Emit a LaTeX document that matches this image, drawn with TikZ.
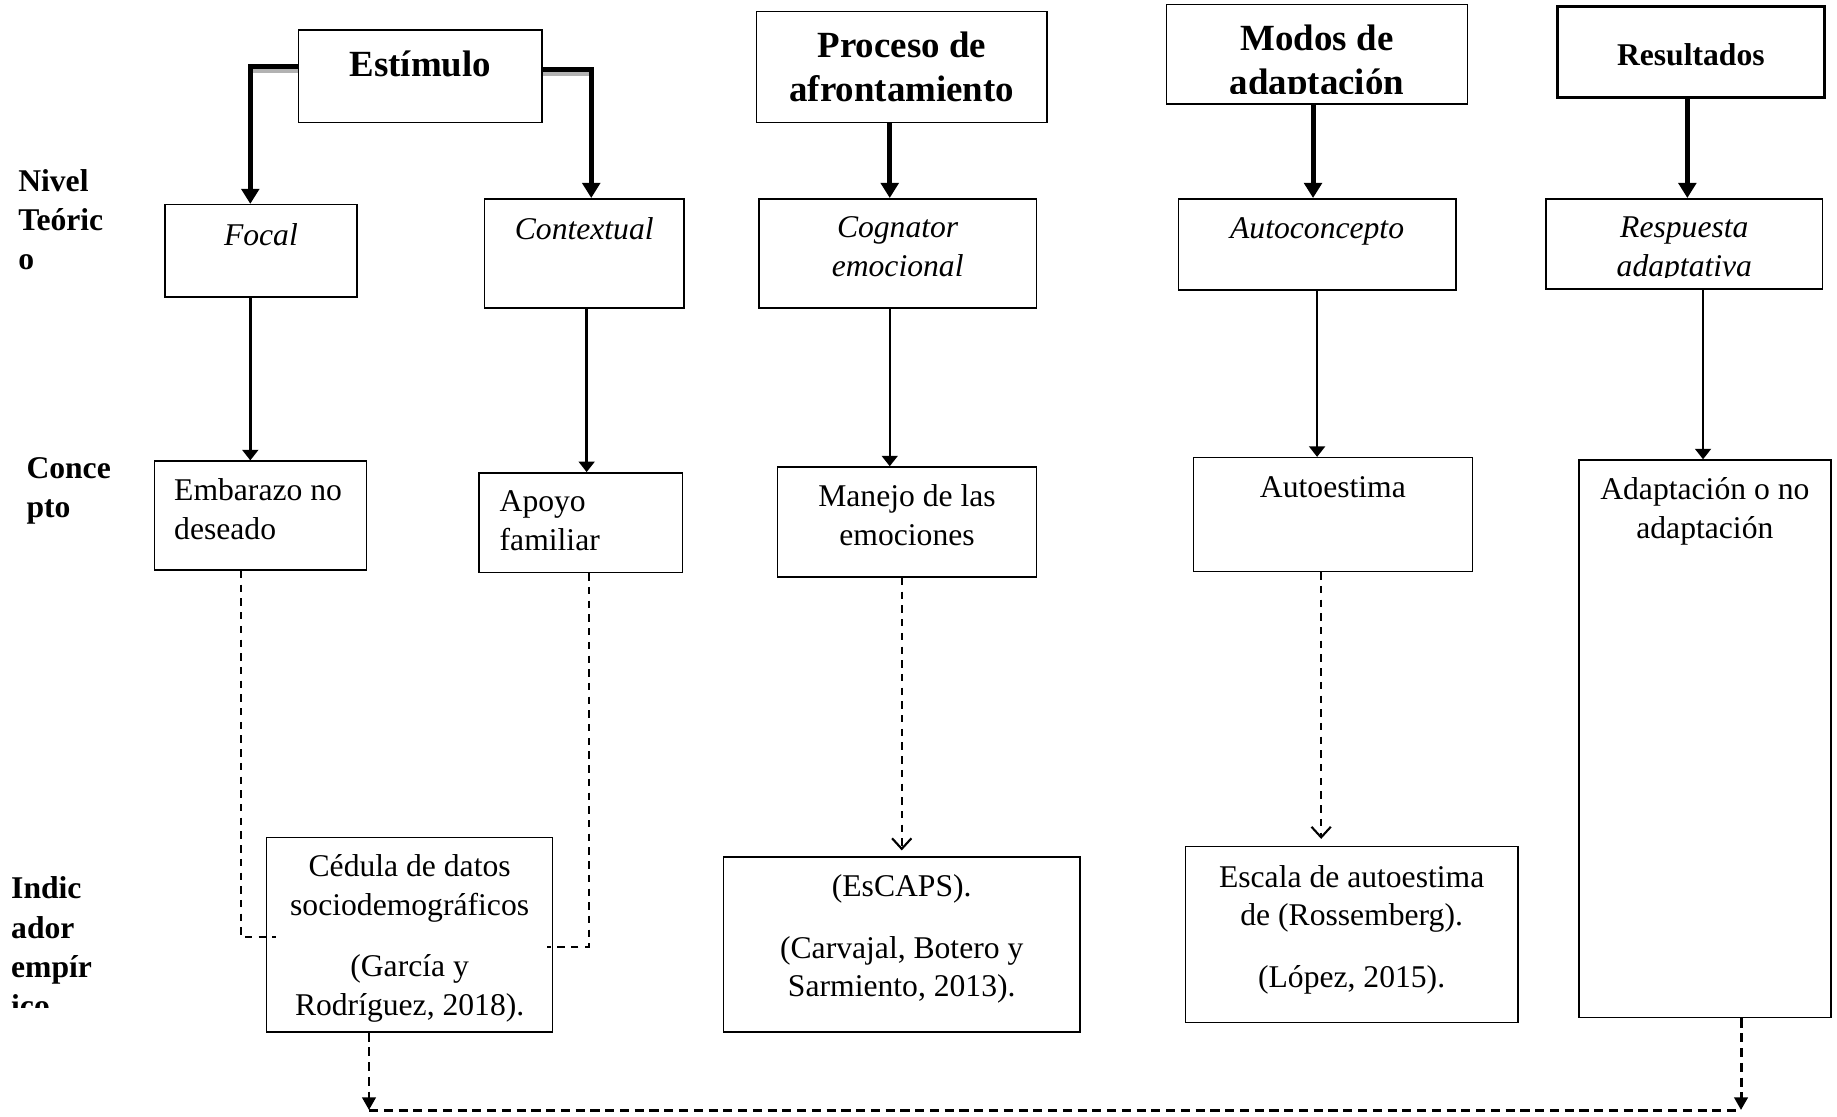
\documentclass[tikz,border=0pt]{standalone}
\usepackage{fontspec}
\setmainfont{Liberation Serif}
\usetikzlibrary{positioning, arrows.meta}

\tikzset{
  box/.style={draw, line width=0.45pt, inner sep=0pt, anchor=north west},
  txt/.style={inner sep=0pt, anchor=north, align=center, font=\fontsize{9}{11}\selectfont},
  itx/.style={txt, font=\fontsize{9}{11}\selectfont\itshape},
  ttl/.style={txt, font=\fontsize{10.5}{12.7}\selectfont\bfseries},
  lvl/.style={inner sep=0pt, anchor=north west, align=left, font=\fontsize{9}{11.2}\selectfont\bfseries},
  bigarr/.style={line width=1.4pt, -{Triangle[width=5pt,length=4.3pt]}},
  thinarr/.style={line width=0.7pt, -{Triangle[width=4.5pt,length=3pt]}},
  dsh/.style={line width=0.6pt, dash pattern=on 2.1pt off 1.8pt},
  dsharr/.style={dsh, -{Straight Barb[width=5.5pt,length=3pt,line width=0.6pt]}},
  dshbold/.style={line width=0.85pt, dash pattern=on 2.6pt off 1.6pt},
  shade/.style={gray!60, line width=1.4pt}
}

\begin{document}
\begin{tikzpicture}[x=0.1mm, y=-0.1mm]
    \useasboundingbox (0,0) rectangle (1837,1116);

    \node[box, minimum width=24.37mm, minimum height=9.25mm] (estimulo) at (297.6,29.3) {};
    \node[box, minimum width=29.05mm, minimum height=11.13mm] (proceso) at (755.7,10.5) {};
    \node[box, minimum width=30.11mm, minimum height=9.96mm] (modos) at (1165.7,3.5) {};
    \node[box, line width=0.8pt, minimum width=26.71mm, minimum height=9.14mm] (resultados) at (1555.9,4.7) {};
    \node[box, minimum width=19.22mm, minimum height=9.25mm] (focal) at (164,203.9) {};
    \node[box, minimum width=19.91mm, minimum height=10.9mm] (contextual) at (483.9,198) {};
    \node[box, minimum width=27.77mm, minimum height=10.9mm] (cognator) at (758,198) {};
    \node[box, minimum width=27.76mm, minimum height=9.14mm] (autoconcepto) at (1177.5,198) {};
    \node[box, minimum width=27.65mm, minimum height=9.02mm] (respuesta) at (1545.3,198) {};
    \node[box, minimum width=21.2mm, minimum height=10.9mm] (embarazo) at (153.5,460.4) {};
    \node[box, minimum width=20.39mm, minimum height=9.96mm] (apoyo) at (478,472.1) {};
    \node[box, minimum width=25.89mm, minimum height=11.01mm] (manejo) at (776.8,466.3) {};
    \node[box, minimum width=27.88mm, minimum height=11.37mm] (autoestima) at (1192.7,456.9) {};
    \node[box, minimum width=25.19mm, minimum height=55.76mm] (adaptacion) at (1578.1,459.3) {};
    \node[box, minimum width=28.59mm, minimum height=19.45mm] (cedula) at (265.9,836.5) {};
    \node[box, minimum width=35.61mm, minimum height=17.46mm] (escaps) at (722.9,856.4) {};
    \node[box, minimum width=33.27mm, minimum height=17.57mm] (escala) at (1184.5,845.9) {};

    \node[ttl, below=2.05mm of estimulo.north] (estimulo-t) {Estímulo};
    \node[ttl, below=2.05mm of proceso.north] (proceso-t) {Proceso de\\afrontamiento};
    \begin{scope}
        \clip (modos.north west) rectangle ([yshift=-9mm]modos.north east);
        \node[ttl, below=2.05mm of modos.north] (modos-t) {Modos de\\adaptación};
    \end{scope}
    \node[txt, font=\fontsize{9}{11}\selectfont\bfseries, below=3.85mm of resultados.north] (resultados-t) {Resultados};

    \node[itx, below=1.9mm of focal.north] (focal-t) {Focal};
    \node[itx, below=1.9mm of contextual.north] (contextual-t) {Contextual};
    \node[itx, below=1.8mm of cognator.north] (cognator-t) {Cognator\\emocional};
    \node[itx, below=1.9mm of autoconcepto.north] (autoconcepto-t) {Autoconcepto};
    \begin{scope}
        \clip (respuesta.north west) rectangle ([yshift=-7.9mm]respuesta.north east);
        \node[itx, below=1.8mm of respuesta.north] (respuesta-t) {Respuesta\\adaptativa};
    \end{scope}

    \node[txt, align=left, below right=1.75mm and 2mm of embarazo.north west] (embarazo-t) {Embarazo no\\deseado};
    \node[txt, align=left, below right=1.8mm and 2.1mm of apoyo.north west] (apoyo-t) {Apoyo\\familiar};
    \node[txt, below=1.75mm of manejo.north] (manejo-t) {Manejo de las\\emociones};
    \node[txt, below=1.9mm of autoestima.north] (autoestima-t) {Autoestima};
    \node[txt, below=1.75mm of adaptacion.north] (adaptacion-t) {Adaptación o no\\adaptación};
    \node[txt, below=1.75mm of cedula.north] (cedula-t) {Cédula de datos\\sociodemográficos\\[6.5pt](García y\\Rodríguez, 2018).};
    \node[txt, below=1.75mm of escaps.north] (escaps-t) {(EsCAPS).\\[6.5pt](Carvajal, Botero y\\Sarmiento, 2013).};
    \node[txt, below=1.85mm of escala.north] (escala-t) {Escala de autoestima\\de (Rossemberg).\\[6.5pt](López, 2015).};

    \node[lvl] (nivel) at (17.6,168.5) {Nivel\\Teóric\\o};
    \node[lvl] (concepto) at (25.8,456.5) {Conce\\pto};
    \begin{scope}
        \clip (0,850) rectangle (200,1007.6);
        \node[lvl] (indicador) at (10.5,876) {Indic\\ador\\empír\\ico};
    \end{scope}

    \draw[shade] ([yshift=-4.17mm]estimulo.north west) -- ++(-4.46mm,0);
    \draw[shade] ([yshift=-4.4mm]estimulo.north east) -- ++(4.77mm,0);
    \draw[bigarr] ([yshift=-3.75mm]estimulo.north west) -| ([xshift=-1.06mm]focal.north);
    \draw[bigarr] ([yshift=-3.98mm]estimulo.north east) -| ([xshift=0.7mm]contextual.north);
    \foreach \a/\b/\s in {proceso/cognator/-1.2mm, modos/autoconcepto/-0.4mm, resultados/respuesta/-0.35mm}
        \draw[bigarr] ([xshift=\s]\a.south) -- ([xshift=\s]\a.south |- \b.north);

    \foreach \a/\b/\s in {focal/embarazo/-1.06mm, contextual/apoyo/0.24mm, cognator/manejo/-0.79mm, autoconcepto/autoestima/0mm, respuesta/adaptacion/1.87mm}
        \draw[thinarr] ([xshift=\s]\a.south) -- ([xshift=\s]\a.south |- \b.north);

    \draw[dsh] ([xshift=-1.95mm]embarazo.south) |- ([xshift=1mm, yshift=-10.05mm]cedula.north west);
    \draw[dsh] ([xshift=0.8mm]apoyo.south) |- ([xshift=-0.6mm, yshift=-11.02mm]cedula.north east);
    \draw[dsharr] (manejo.south -| escaps.north) -- ([yshift=0.6mm]escaps.north);
    \draw[dsharr] ([xshift=-3.05mm]escala.north |- autoestima.south) -- ([xshift=-3.05mm, yshift=0.7mm]escala.north);

    \coordinate (bl) at (369,1110);
    \coordinate (br) at (1741,1110);
    \draw[dshbold, -{Triangle[width=3.8pt,length=3.6pt]}] (cedula.south -| bl) -- (bl);
    \draw[dshbold, -{Triangle[width=3.8pt,length=3.6pt]}] (adaptacion.south -| br) -- (br);
    \draw[dshbold] (bl) -- (br);
\end{tikzpicture}
\end{document}
